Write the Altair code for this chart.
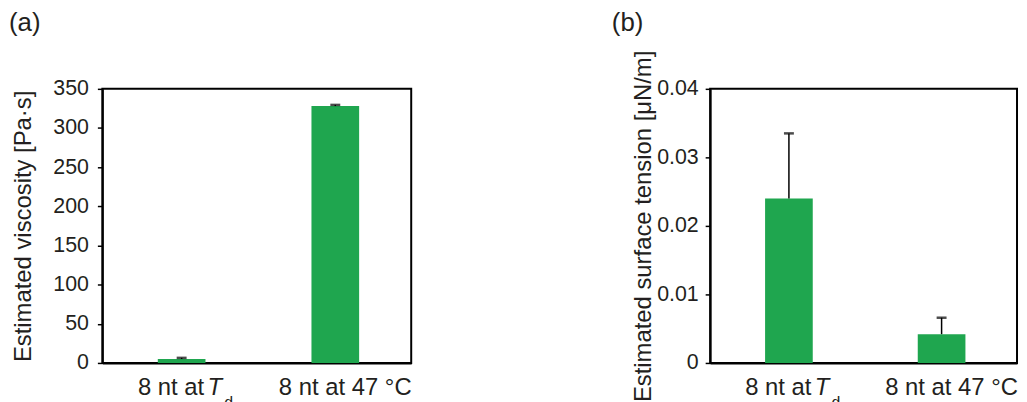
import altair as alt
import pandas as pd

# ---- data ----
categories = ["8 nt at Td", "8 nt at 47 °C"]
label_main = ["8 nt at ", "8 nt at 47 °C"]
label_italic = ["T", ""]
label_sub = ["d", ""]

viscosity = [5.0, 328.0]
viscosity_err = [1.5, 1.5]
viscosity_ticks = [0, 50, 100, 150, 200, 250, 300, 350]

tension = [0.0240, 0.0042]
tension_err = [0.0095, 0.0024]
tension_ticks = [0, 0.01, 0.02, 0.03, 0.04]

GREEN = "#1fa64f"
TEXT = "#231f20"
FONT = "Liberation Sans"
H = 276


def panel(values, errs, ticks, title, letter, width, title_pad, label_pad,
          letter_dx, fmt):
    df = pd.DataFrame({
        "cat": categories, "value": values, "err": errs,
        "main": label_main, "ital": label_italic, "sub": label_sub,
    })
    base = alt.Chart(df).transform_calculate(upper="datum.value + datum.err")
    xscale = alt.Scale(paddingInner=0.1, paddingOuter=0.055, align=0.6)
    xaxis = alt.Axis(labels=False, ticks=False, title=None,
                     domainColor="black", domainWidth=2)
    xenc = alt.X("cat:N", sort=categories, scale=xscale, axis=xaxis)
    yscale = alt.Scale(domain=[ticks[0], ticks[-1]], nice=False)
    yaxis = alt.Axis(values=ticks, format=fmt, title=title, grid=False,
                     labelOverlap=False, tickCount=len(ticks),
                     domainColor="black", domainWidth=2,
                     tickColor="black", tickWidth=1.5, tickSize=5,
                     labelFont=FONT, labelFontSize=21.5, labelColor=TEXT,
                     labelPadding=label_pad,
                     titleFont=FONT, titleFontSize=24, titleFontWeight="normal",
                     titleColor=TEXT, titlePadding=title_pad)

    def Y(field):
        return alt.Y(field, scale=yscale, axis=yaxis, title=title)

    bars = base.mark_bar(size=48, color=GREEN).encode(x=xenc, y=Y("value:Q"))
    rule = base.mark_rule(color="black", strokeWidth=1.5).encode(
        x=xenc, y=Y("value:Q"), y2="upper:Q")
    cap = base.mark_tick(color="black", size=10, thickness=2.5).encode(
        x=xenc, y=Y("upper:Q"))

    c1 = f"datum.cat == '{categories[0]}'"
    c2 = f"datum.cat == '{categories[1]}'"
    t_main1 = base.transform_filter(c1).mark_text(
        align="left", baseline="alphabetic", dx=-44, font=FONT, fontSize=24,
        color=TEXT).encode(x=xenc, y=alt.value(H + 32), text="main:N")
    t_ital = base.transform_filter(c1).mark_text(
        align="left", baseline="alphabetic", dx=26, font=FONT, fontSize=24,
        fontStyle="italic", color=TEXT).encode(
        x=xenc, y=alt.value(H + 32), text="ital:N")
    t_sub = base.transform_filter(c1).mark_text(
        align="left", baseline="alphabetic", dx=43, font=FONT, fontSize=16,
        color=TEXT).encode(x=xenc, y=alt.value(H + 45), text="sub:N")
    t_main2 = base.transform_filter(c2).mark_text(
        align="center", baseline="alphabetic", dx=10, font=FONT, fontSize=24,
        color=TEXT).encode(x=xenc, y=alt.value(H + 32), text="main:N")

    letter_chart = alt.Chart(pd.DataFrame({"t": [letter]})).mark_text(
        align="left", baseline="top", font=FONT, fontSize=26, color=TEXT
    ).encode(x=alt.value(letter_dx), y=alt.value(-79), text="t:N")

    return alt.layer(bars, rule, cap, t_main1, t_ital, t_sub, t_main2,
                     letter_chart).properties(width=width, height=H)


pa = panel(viscosity, viscosity_err, viscosity_ticks,
           "Estimated viscosity [Pa·s]", "(a)", 311, 17, 9, -94, "d")
pb = panel(tension, tension_err, tension_ticks,
           "Estimated surface tension [μN/m]", "(b)", 309, 1, 7, -99, ".2~f")

chart = alt.hconcat(pa, pb, spacing=301, bounds="flush").properties(
    padding=0
).configure_view(stroke="black", strokeWidth=2)

chart.save("out.html", embed_options={"renderer": "svg", "actions": False})
